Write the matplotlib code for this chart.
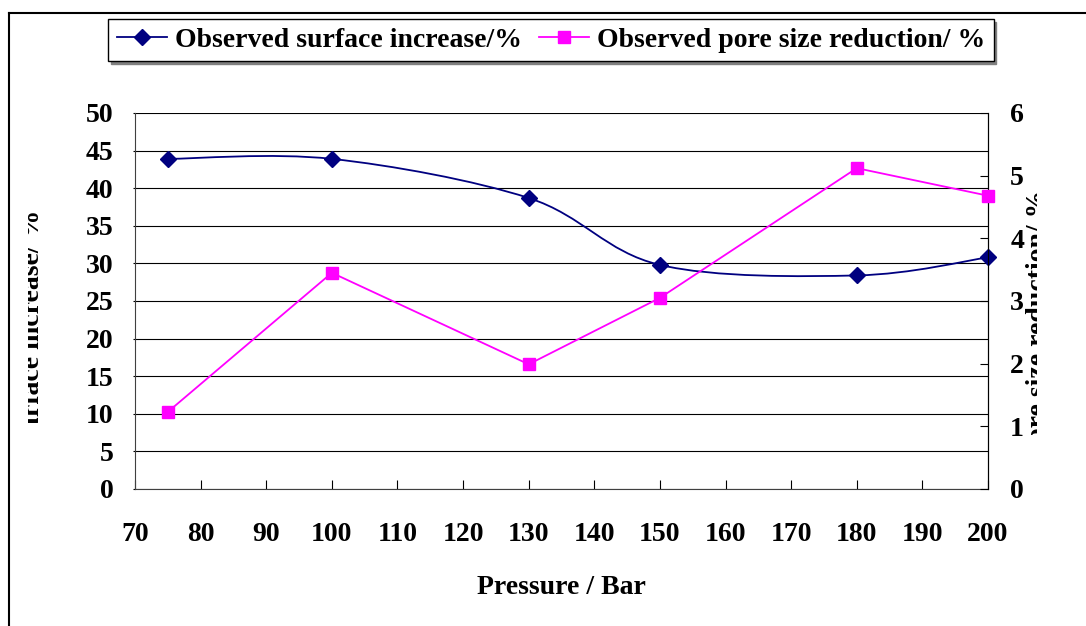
import numpy as np
import matplotlib
matplotlib.use('Agg')
import matplotlib.pyplot as plt
from matplotlib.path import Path
from matplotlib.patches import PathPatch
from matplotlib.lines import Line2D
from matplotlib.transforms import Bbox

pressure = [75, 100, 130, 150, 180, 200]
surface_increase = [43.9, 43.9, 38.7, 29.8, 28.4, 30.8]
pore_reduction = [1.23, 3.45, 1.99, 3.05, 5.12, 4.68]

x_ticks = list(range(70, 201, 10))
left_ticks = list(range(0, 51, 5))
right_ticks = list(range(0, 7))

plt.rcParams['font.family'] = ['Liberation Serif', 'DejaVu Serif']
plt.rcParams['font.weight'] = 'bold'
FS = 20
NAVY = '#000080'
MAGENTA = '#FF00FF'


def smooth_path(xs, ys):
    # Excel style smoothed line: cubic Bezier segments (Catmull-Rom)
    pts = np.column_stack([xs, ys]).astype(float)
    n = len(pts)
    verts = [pts[0]]
    codes = [Path.MOVETO]
    for i in range(n - 1):
        p_prev = pts[max(i - 1, 0)]
        p0 = pts[i]
        p1 = pts[i + 1]
        p_next = pts[min(i + 2, n - 1)]
        c1 = p0 + (p1 - p_prev) / 6.0
        c2 = p1 - (p_next - p0) / 6.0
        verts += [c1, c2, p1]
        codes += [Path.CURVE4] * 3
    return Path(verts, codes)


fig = plt.figure(figsize=(10.86, 6.26), dpi=100)
ax = fig.add_axes([135 / 1086, 137 / 626, 853 / 1086, 376 / 626])

# surface increase, smoothed line with diamond markers
ax.add_patch(PathPatch(smooth_path(pressure, surface_increase), facecolor='none',
                       edgecolor=NAVY, lw=1.3, zorder=3))
ax.plot(pressure, surface_increase, linestyle='none', marker='D', ms=8.5,
        color=NAVY, zorder=4, clip_on=False)

ax.set_xlim(70, 200)
ax.set_ylim(0, 50)
ax.set_xticks(x_ticks)
ax.set_yticks(left_ticks)
ax.grid(axis='y', color='black', lw=0.8)
ax.set_axisbelow(True)
ax.tick_params(axis='x', direction='in', length=6.5, width=0.8, pad=24, labelsize=FS)
ax.tick_params(axis='y', direction='out', length=1.5, width=0.8, pad=14, labelsize=FS)
for s in ['left', 'bottom']:
    ax.spines[s].set_color('#404040')
ax.spines['top'].set_visible(False)
ax.spines['right'].set_color('black')
ax.set_xlabel('Pressure / Bar', fontsize=FS, fontweight='bold', labelpad=20)

# pore size reduction on the right axis
ax2 = ax.twinx()
ax2.plot(pressure, pore_reduction, color=MAGENTA, lw=1.3, marker='s', ms=8,
         zorder=4, clip_on=False)
ax2.set_ylim(0, 6)
ax2.set_yticks(right_ticks)
ax2.tick_params(axis='y', direction='in', length=6, width=0.8, pad=16, labelsize=FS)
ax2.spines['top'].set_visible(False)
ax2.spines['left'].set_visible(False)
ax2.spines['bottom'].set_visible(False)
ax2.spines['right'].set_color('black')

# axis titles, clipped like in the original chart
t1 = fig.text(45, 416, 'Surface increase/ %', rotation=90, ha='right', va='top',
              fontsize=FS, fontweight='bold', transform=None)
t1.set_clip_box(Bbox([[28, 203], [100, 420]]))
t1.set_clip_on(True)
t2 = fig.text(1026, 436, 'Pore size reduction/ %', rotation=90, ha='left', va='top',
              fontsize=FS, fontweight='bold', transform=None)
t2.set_clip_box(Bbox([[1000, 191], [1037, 440]]))
t2.set_clip_on(True)

handles = [
    Line2D([], [], color=NAVY, lw=1.3, marker='D', ms=8.5),
    Line2D([], [], color=MAGENTA, lw=1.3, marker='s', ms=8),
]
labels = ['Observed surface increase/%', 'Observed pore size reduction/ %']
leg = fig.legend(handles, labels, loc='center', ncol=2,
                 bbox_to_anchor=(551 / 1086, 586 / 626), bbox_transform=fig.transFigure,
                 fontsize=FS, frameon=True, fancybox=False,
                 shadow={'color': '#808080', 'alpha': 1},
                 handlelength=1.8, handletextpad=0.3, columnspacing=0.6,
                 borderpad=0.3, borderaxespad=0)
leg.get_frame().set_edgecolor('black')
leg.get_frame().set_linewidth(1)
for t in leg.get_texts():
    t.set_fontweight('bold')

# outer chart border (only left and top edges are in view)
fig.add_artist(Line2D([9 / 1086, 9 / 1086], [0, 613 / 626], color='black', lw=1.5,
                      transform=fig.transFigure))
fig.add_artist(Line2D([9 / 1086, 1], [613 / 626, 613 / 626], color='black', lw=1.5,
                      transform=fig.transFigure))

fig.savefig('out.png', dpi=100)
